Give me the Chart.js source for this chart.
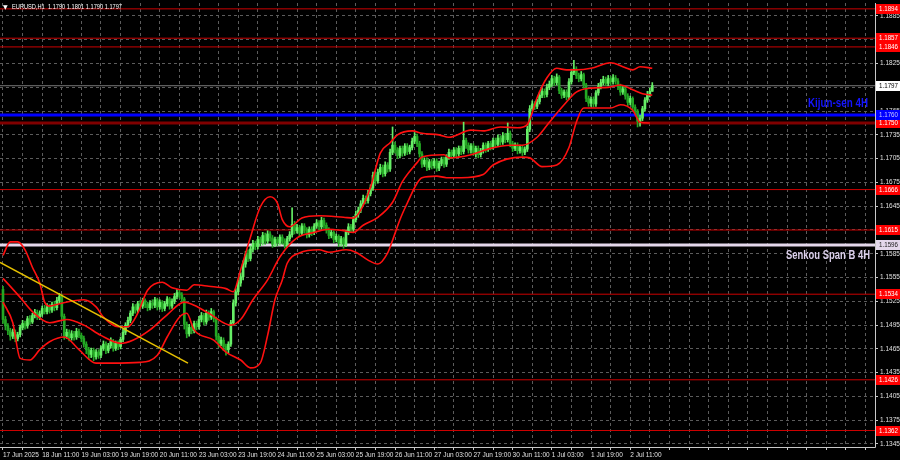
<!DOCTYPE html>
<html>
<head>
<meta charset="utf-8">
<script src="https://cdn.jsdelivr.net/npm/chart.js@4.4.0/dist/chart.umd.min.js"></script>
<style>
  html, body { margin: 0; padding: 0; background: #000; }
  #chart { display: block; }
</style>
</head>
<body>
<canvas id="chart" width="900" height="460"></canvas>
<script>
// EURUSD H1, bar 0 = 17 Jun 19:00
const firstOpen = 1.1540;
const closes = [
  1.1502,1.1494,1.1488,1.1481,1.1486,1.1478,1.1483,1.1492,1.1497,1.1494,
  1.1503,1.1499,1.1507,1.1511,1.1505,1.1509,1.1516,1.1512,1.1518,1.1514,
  1.1521,1.1517,1.1526,1.1531,1.1506,1.1481,1.1486,1.1479,1.1484,1.1480,
  1.1487,1.1482,1.1478,1.1471,1.1464,1.1458,1.1463,1.1455,1.1461,1.1457,
  1.1466,1.1471,1.1463,1.1469,1.1475,1.1466,1.1472,1.1468,1.1477,1.1486,
  1.1495,1.1501,1.1510,1.1518,1.1514,1.1522,1.1519,1.1526,1.1521,1.1517,
  1.1523,1.1520,1.1527,1.1518,1.1524,1.1516,1.1522,1.1528,1.1519,1.1525,
  1.1531,1.1536,1.1533,1.1528,1.1496,1.1484,1.1492,1.1488,1.1497,1.1493,
  1.1502,1.1507,1.1499,1.1510,1.1505,1.1512,1.1503,1.1481,1.1472,1.1476,
  1.1468,1.1464,1.1471,1.1498,1.1523,1.1537,1.1548,1.1556,1.1572,1.1584,
  1.1579,1.1591,1.1598,1.1594,1.1603,1.1599,1.1608,1.1601,1.1610,1.1605,
  1.1597,1.1603,1.1599,1.1606,1.1601,1.1596,1.1604,1.1609,1.1622,1.1614,
  1.1618,1.1611,1.1620,1.1615,1.1609,1.1616,1.1612,1.1620,1.1624,1.1619,
  1.1627,1.1621,1.1615,1.1608,1.1612,1.1603,1.1607,1.1599,1.1604,1.1597,
  1.1612,1.1619,1.1616,1.1628,1.1635,1.1640,1.1648,1.1655,1.1652,1.1661,
  1.1668,1.1684,1.1677,1.1688,1.1694,1.1686,1.1697,1.1692,1.1713,1.1722,
  1.1716,1.1709,1.1718,1.1712,1.1721,1.1714,1.1719,1.1727,1.1733,1.1724,
  1.1711,1.1698,1.1703,1.1694,1.1701,1.1696,1.1702,1.1693,1.1699,1.1704,
  1.1698,1.1707,1.1713,1.1709,1.1716,1.1711,1.1718,1.1714,1.1728,1.1722,
  1.1716,1.1721,1.1713,1.1718,1.1710,1.1715,1.1722,1.1717,1.1724,1.1720,
  1.1728,1.1723,1.1731,1.1726,1.1734,1.1729,1.1737,1.1724,1.1718,1.1722,
  1.1715,1.1719,1.1713,1.1717,1.1742,1.1768,1.1774,1.1771,1.1777,1.1785,
  1.1790,1.1786,1.1795,1.1799,1.1806,1.1801,1.1808,1.1791,1.1785,1.1789,
  1.1783,1.1802,1.1814,1.1818,1.1810,1.1806,1.1811,1.1798,1.1781,1.1775,
  1.1780,1.1774,1.1788,1.1796,1.1801,1.1805,1.1800,1.1806,1.1802,1.1807,
  1.1803,1.1796,1.1789,1.1793,1.1784,1.1776,1.1781,1.1770,1.1765,1.1752,
  1.1756,1.1768,1.1779,1.1786,1.1790,1.1797
];
const highs = [
  1.1544,1.1506,1.1497,1.1491,1.1490,1.1489,1.1486,1.1495,1.1501,1.1500,
  1.1506,1.1507,1.1510,1.1515,1.1514,1.1513,1.1519,1.1520,1.1522,1.1521,
  1.1524,1.1525,1.1530,1.1535,1.1534,1.1509,1.1490,1.1489,1.1488,1.1487,
  1.1491,1.1490,1.1485,1.1481,1.1474,1.1467,1.1466,1.1466,1.1464,1.1464,
  1.1469,1.1475,1.1474,1.1472,1.1479,1.1477,1.1475,1.1475,1.1480,1.1490,
  1.1498,1.1505,1.1513,1.1522,1.1521,1.1525,1.1526,1.1529,1.1528,1.1524,
  1.1526,1.1527,1.1530,1.1529,1.1527,1.1526,1.1525,1.1531,1.1530,1.1528,
  1.1535,1.1540,1.1539,1.1536,1.1530,1.1499,1.1496,1.1495,1.1500,1.1500,
  1.1506,1.1511,1.1510,1.1514,1.1513,1.1516,1.1514,1.1505,1.1484,1.1480,
  1.1479,1.1471,1.1474,1.1501,1.1527,1.1541,1.1552,1.1561,1.1576,1.1588,
  1.1590,1.1595,1.1602,1.1601,1.1607,1.1606,1.1612,1.1611,1.1614,1.1613,
  1.1608,1.1606,1.1606,1.1609,1.1609,1.1604,1.1607,1.1613,1.1643,1.1626,
  1.1622,1.1621,1.1623,1.1623,1.1618,1.1619,1.1619,1.1623,1.1628,1.1627,
  1.1631,1.1630,1.1624,1.1618,1.1615,1.1614,1.1610,1.1609,1.1607,1.1606,
  1.1615,1.1623,1.1622,1.1632,1.1639,1.1644,1.1652,1.1659,1.1658,1.1665,
  1.1672,1.1688,1.1687,1.1692,1.1698,1.1697,1.1701,1.1700,1.1717,1.1745,
  1.1726,1.1719,1.1721,1.1721,1.1724,1.1724,1.1722,1.1731,1.1738,1.1736,
  1.1727,1.1714,1.1706,1.1706,1.1704,1.1704,1.1705,1.1705,1.1702,1.1707,
  1.1707,1.1710,1.1717,1.1716,1.1719,1.1719,1.1721,1.1721,1.1751,1.1731,
  1.1725,1.1724,1.1724,1.1721,1.1721,1.1718,1.1725,1.1725,1.1727,1.1727,
  1.1731,1.1731,1.1735,1.1734,1.1738,1.1737,1.1750,1.1740,1.1727,1.1725,
  1.1725,1.1722,1.1722,1.1720,1.1746,1.1772,1.1778,1.1777,1.1780,1.1789,
  1.1794,1.1793,1.1799,1.1803,1.1810,1.1809,1.1812,1.1810,1.1794,1.1792,
  1.1792,1.1806,1.1818,1.1829,1.1821,1.1813,1.1815,1.1813,1.1800,1.1784,
  1.1783,1.1783,1.1791,1.1800,1.1805,1.1809,1.1808,1.1810,1.1809,1.1811,
  1.1810,1.1806,1.1799,1.1796,1.1796,1.1787,1.1784,1.1783,1.1773,1.1767,
  1.1760,1.1771,1.1782,1.1790,1.1794,1.1801
];
const lows = [
  1.1497,1.1489,1.1483,1.1476,1.1478,1.1474,1.1475,1.1480,1.1489,1.1490,
  1.1491,1.1496,1.1497,1.1504,1.1502,1.1502,1.1506,1.1509,1.1509,1.1510,
  1.1511,1.1513,1.1514,1.1522,1.1502,1.1477,1.1478,1.1475,1.1476,1.1476,
  1.1477,1.1479,1.1474,1.1467,1.1459,1.1452,1.1454,1.1450,1.1452,1.1453,
  1.1454,1.1463,1.1459,1.1460,1.1466,1.1462,1.1463,1.1464,1.1465,1.1474,
  1.1483,1.1492,1.1498,1.1507,1.1510,1.1511,1.1515,1.1516,1.1517,1.1513,
  1.1514,1.1516,1.1517,1.1514,1.1515,1.1512,1.1513,1.1519,1.1515,1.1516,
  1.1522,1.1528,1.1529,1.1524,1.1490,1.1479,1.1481,1.1484,1.1485,1.1489,
  1.1490,1.1499,1.1495,1.1496,1.1501,1.1502,1.1499,1.1476,1.1467,1.1469,
  1.1463,1.1457,1.1460,1.1468,1.1495,1.1519,1.1533,1.1544,1.1552,1.1568,
  1.1575,1.1576,1.1587,1.1590,1.1591,1.1595,1.1596,1.1597,1.1598,1.1601,
  1.1593,1.1594,1.1595,1.1596,1.1597,1.1592,1.1593,1.1601,1.1606,1.1610,
  1.1611,1.1607,1.1608,1.1611,1.1605,1.1606,1.1608,1.1609,1.1617,1.1615,
  1.1616,1.1617,1.1611,1.1604,1.1605,1.1599,1.1600,1.1594,1.1595,1.1592,
  1.1594,1.1609,1.1612,1.1613,1.1625,1.1631,1.1637,1.1645,1.1648,1.1649,
  1.1658,1.1665,1.1673,1.1674,1.1685,1.1682,1.1683,1.1688,1.1689,1.1710,
  1.1712,1.1705,1.1706,1.1708,1.1709,1.1710,1.1711,1.1716,1.1724,1.1720,
  1.1707,1.1694,1.1695,1.1690,1.1691,1.1692,1.1693,1.1689,1.1690,1.1696,
  1.1694,1.1695,1.1704,1.1705,1.1706,1.1707,1.1708,1.1710,1.1711,1.1718,
  1.1712,1.1712,1.1709,1.1707,1.1706,1.1707,1.1712,1.1713,1.1714,1.1716,
  1.1717,1.1719,1.1720,1.1722,1.1723,1.1725,1.1726,1.1720,1.1714,1.1715,
  1.1711,1.1712,1.1709,1.1710,1.1714,1.1739,1.1765,1.1767,1.1768,1.1774,
  1.1782,1.1782,1.1783,1.1792,1.1796,1.1797,1.1798,1.1787,1.1781,1.1782,
  1.1779,1.1780,1.1799,1.1811,1.1806,1.1802,1.1803,1.1794,1.1777,1.1771,
  1.1771,1.1770,1.1771,1.1785,1.1793,1.1798,1.1797,1.1797,1.1798,1.1799,
  1.1799,1.1792,1.1785,1.1786,1.1780,1.1772,1.1773,1.1766,1.1761,1.1745,
  1.1746,1.1753,1.1765,1.1776,1.1783,1.1790
];

// Bollinger bands (bar index -> price)
const upperX = [0,3,6,9,12,15,17,19,23,33,38,41,47,51,55,59,65,69,75,78,84,91,94,97,101,105,109,112,114,117,122,129,139,143,146,150,154,158,161,167,171,178,182,191,196,203,210,214,218,222,226,230,234,240,248,253,257,260,265];
const upperY = [1.1583,1.1600,1.1600,1.1590,1.1568,1.1548,1.1524,1.1519,1.1522,1.1527,1.1518,1.1505,1.1493,1.1493,1.1510,1.1539,1.1549,1.1542,1.1539,1.1546,1.1544,1.1541,1.1537,1.1565,1.1606,1.1644,1.1657,1.1649,1.1628,1.1619,1.1630,1.1633,1.1631,1.1630,1.1640,1.1669,1.1712,1.1725,1.1735,1.1740,1.1737,1.1735,1.1732,1.1741,1.1740,1.1745,1.1744,1.1748,1.1782,1.1807,1.1819,1.1817,1.1817,1.1819,1.1826,1.1821,1.1817,1.1821,1.1819];
const midX = [0,7,12,19,26,33,40,48,53,60,67,74,78,84,93,97,102,108,113,120,127,133,139,143,147,153,159,163,169,171,180,182,191,199,207,212,218,223,229,234,240,247,252,257,261,265];
const midY = [1.1554,1.1530,1.1512,1.1498,1.1502,1.1495,1.1482,1.1472,1.1476,1.1489,1.1508,1.1524,1.1520,1.1510,1.1495,1.1502,1.1527,1.1552,1.1581,1.1605,1.1612,1.1616,1.1614,1.1612,1.1621,1.1631,1.1650,1.1676,1.1700,1.1707,1.1710,1.1706,1.1710,1.1718,1.1722,1.1722,1.1732,1.1751,1.1773,1.1789,1.1794,1.1795,1.1798,1.1792,1.1787,1.1785];
const lowX = [0,4,7,11,15,19,25,31,38,44,56,63,67,72,75,78,86,91,97,101,105,108,111,114,116,121,129,133,140,144,149,153,157,159,162,165,169,171,177,181,187,196,200,212,215,220,226,231,234,237,241,248,252,257,260,264];
const lowY = [1.1524,1.1498,1.1453,1.1451,1.1464,1.1474,1.1480,1.1464,1.1447,1.1447,1.1448,1.1457,1.1480,1.1505,1.1510,1.1489,1.1476,1.1461,1.1451,1.1441,1.1447,1.1482,1.1527,1.1552,1.1573,1.1586,1.1590,1.1587,1.1590,1.1587,1.1577,1.1572,1.1586,1.1602,1.1628,1.1649,1.1674,1.1681,1.1683,1.1681,1.1681,1.1685,1.1697,1.1707,1.1706,1.1695,1.1697,1.1719,1.1751,1.1769,1.1769,1.1769,1.1773,1.1766,1.1751,1.1750];

// yellow trend line
const trendX = [-1.2, 75.5];
const trendY = [1.1574, 1.1447];

// horizontal levels
const redLevels = [1.1894, 1.1857, 1.1846, 1.1666, 1.1615, 1.1534, 1.1426, 1.1362];
const resistLevel = 1.1750;
const kijunLevel = 1.1760;
const senkouLevel = 1.1596;
const lastPrice = 1.1797;

const priceTicks = [1.1885,1.1855,1.1825,1.1795,1.1765,1.1735,1.1705,1.1675,1.1645,1.1615,1.1585,1.1555,1.1525,1.1495,1.1465,1.1435,1.1405,1.1375,1.1345];
const timeLabels = ['17 Jun 2025','18 Jun 11:00','19 Jun 03:00','19 Jun 19:00','20 Jun 11:00','23 Jun 03:00','23 Jun 19:00','24 Jun 11:00','25 Jun 03:00','25 Jun 19:00','26 Jun 11:00','27 Jun 03:00','27 Jun 19:00','30 Jun 11:00','1 Jul 03:00','1 Jul 19:00','2 Jul 11:00'];
const title = 'EURUSD,H1  1.1790 1.1801 1.1790 1.1797';

const X_MIN = -1.22, X_MAX = 355.9;
const Y_MIN = 1.13412, Y_MAX = 1.19014;

const opens = closes.map((c, i) => i === 0 ? firstOpen : closes[i - 1]);
const bullColor = '#66ee66', bearColor = '#24a824';
const candleColors = closes.map((c, i) => c >= opens[i] ? bullColor : bearColor);

const pts = (xs, ys) => xs.map((x, i) => ({ x, y: ys[i] }));
const hline = v => [{ x: X_MIN, y: v }, { x: X_MAX, y: v }];

const levelLine = (v, color, width) => ({
  type: 'line', data: hline(v), borderColor: color, borderWidth: width,
  pointRadius: 0, order: 10
});
const bandLine = (xs, ys) => ({
  type: 'line', data: pts(xs, ys), borderColor: '#ff1010', borderWidth: 1.6,
  pointRadius: 0, cubicInterpolationMode: 'monotone', order: 2
});

// price boxes on the right axis
const priceBoxes = [
  ...redLevels.map(v => ({ v, bg: '#ff0000', fg: '#ffffff' })),
  { v: resistLevel, bg: '#ff0000', fg: '#ffffff' },
  { v: kijunLevel, bg: '#0000ff', fg: '#c8c8ff' },
  { v: senkouLevel, bg: '#e4d8ec', fg: '#202020' },
  { v: lastPrice, bg: '#ffffff', fg: '#000000' }
];

const overlayPlugin = {
  id: 'overlay',
  afterDraw(chart) {
    const { ctx, chartArea, scales: { y } } = chart;
    ctx.save();

    // solid frame on the right and bottom
    ctx.strokeStyle = '#c8c8c8';
    ctx.lineWidth = 1;
    ctx.beginPath();
    ctx.moveTo(chartArea.left, chartArea.bottom + 0.5);
    ctx.lineTo(chartArea.right + 0.5, chartArea.bottom + 0.5);
    ctx.lineTo(chartArea.right + 0.5, chartArea.top);
    ctx.stroke();

    ctx.textBaseline = 'middle';
    ctx.font = '6.5px "Liberation Sans"';
    ctx.textAlign = 'left';
    priceBoxes.forEach(b => {
      const py = Math.round(y.getPixelForValue(b.v));
      ctx.fillStyle = b.bg;
      ctx.fillRect(chartArea.right + 1, py - 5, 24, 10);
      ctx.fillStyle = b.fg;
      ctx.fillText(b.v.toFixed(4), chartArea.right + 4, py + 0.5, 19);
    });

    // title
    ctx.fillStyle = '#ffffff';
    ctx.font = '6px "DejaVu Sans"';
    ctx.fillText('\u25BC', 3, 7);
    ctx.font = '7px "Liberation Sans"';
    ctx.fillText(title, 12, 7, 110);

    // level captions
    ctx.textAlign = 'right';
    ctx.font = 'bold 13px "Liberation Sans"';
    ctx.fillStyle = '#1414ff';
    ctx.fillText('Kijun-sen 4H', chartArea.right - 7, y.getPixelForValue(kijunLevel) - 12, 60);
    ctx.fillStyle = '#dcd0ec';
    ctx.fillText('Senkou Span B 4H', chartArea.right - 5, y.getPixelForValue(senkouLevel) + 10, 84);
    ctx.restore();
  }
};

const gridStyle = { color: '#5c5c5c', tickLength: 3, tickColor: '#c8c8c8' };
const borderStyle = { display: false, dash: [3, 3] };

const chart = new Chart(document.getElementById('chart'), {
  type: 'bar',
  data: {
    datasets: [
      ...redLevels.map(v => levelLine(v, '#cc0000', 1)),
      levelLine(resistLevel, '#800000', 3),
      levelLine(senkouLevel, '#e4d8ec', 3),
      levelLine(lastPrice, '#7a7a7a', 1),
      levelLine(kijunLevel, '#0000ff', 3),
      {
        data: closes.map((c, i) => ({ x: i, y: [lows[i], highs[i]] })),
        backgroundColor: candleColors, barThickness: 1, grouped: false, order: 4
      },
      {
        data: closes.map((c, i) => ({ x: i, y: [opens[i], c] })),
        backgroundColor: candleColors, barThickness: 2, minBarLength: 1, grouped: false, order: 3
      },
      bandLine(upperX, upperY),
      bandLine(midX, midY),
      bandLine(lowX, lowY),
      {
        type: 'line', data: pts(trendX, trendY), borderColor: '#e6c000', borderWidth: 1.5,
        pointRadius: 0, order: 1
      }
    ]
  },
  options: {
    responsive: false,
    animation: false,
    events: [],
    layout: { padding: { top: 3, left: 0, right: 0, bottom: 0 } },
    plugins: { legend: { display: false }, tooltip: { enabled: false } },
    scales: {
      x: {
        type: 'linear', min: X_MIN, max: X_MAX, offset: false,
        grid: { ...gridStyle, offset: false },
        border: borderStyle,
        afterBuildTicks: s => {
          s.ticks = [];
          for (let v = 0; v <= X_MAX; v += 8) s.ticks.push({ value: v });
        },
        afterFit: s => { s.height = 13; s.paddingLeft = 0; s.paddingRight = 0; },
        ticks: {
          autoSkip: false, maxRotation: 0, align: 'start', padding: 1,
          color: '#e0e0e0', font: { family: 'Liberation Sans', size: 6.5 },
          callback: v => (v % 16 === 0 && timeLabels[v / 16]) ? timeLabels[v / 16] : ''
        }
      },
      y: {
        position: 'right', min: Y_MIN, max: Y_MAX,
        grid: gridStyle,
        border: borderStyle,
        afterBuildTicks: s => { s.ticks = priceTicks.map(v => ({ value: v })); },
        afterFit: s => { s.width = 25; s.paddingTop = 0; s.paddingBottom = 0; },
        ticks: {
          autoSkip: false, padding: 2,
          color: '#e0e0e0', font: { family: 'Liberation Sans', size: 6.5 },
          callback: v => v.toFixed(4)
        }
      }
    }
  },
  plugins: [overlayPlugin]
});
</script>
</body>
</html>
